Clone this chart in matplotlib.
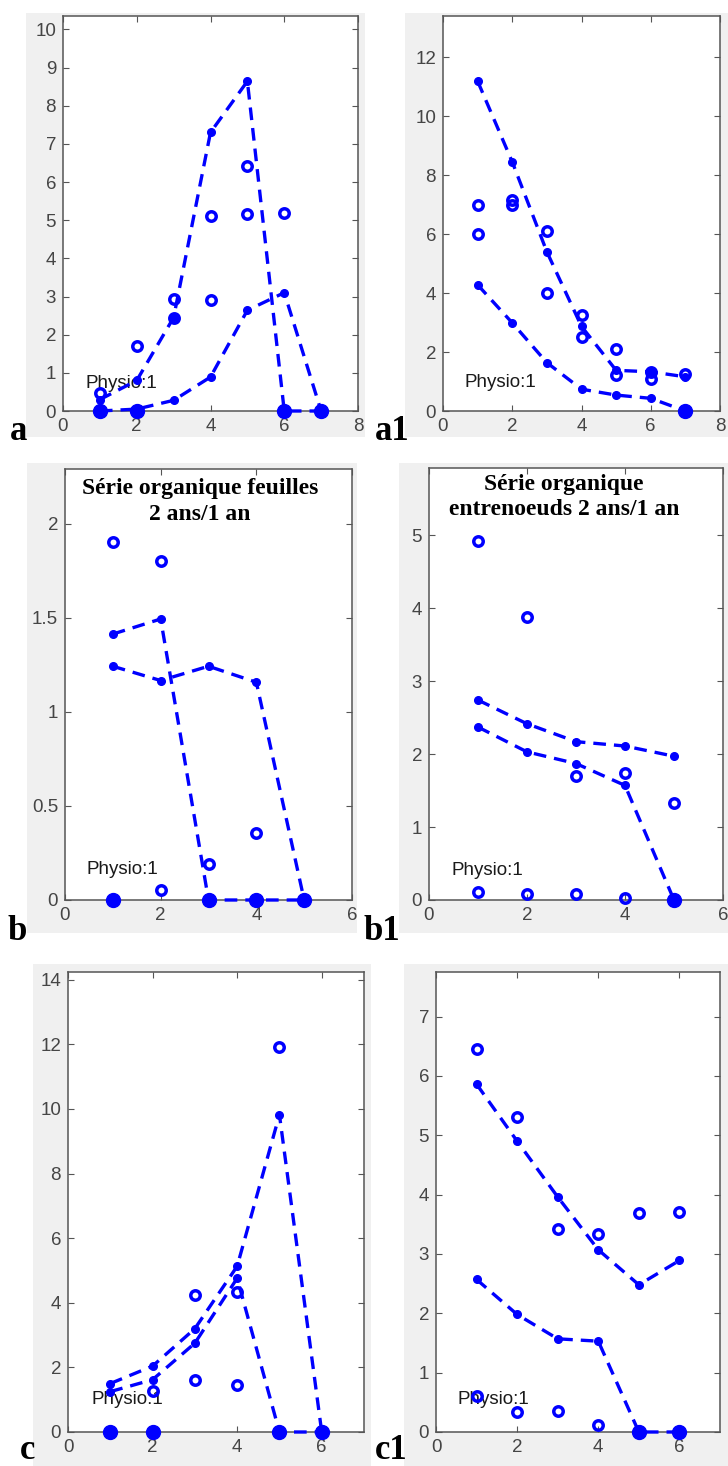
import numpy as np
import matplotlib.pyplot as plt
from matplotlib.patches import Rectangle

plt.rcParams['font.family'] = ['Liberation Sans', 'DejaVu Sans']

# ---- data ----
# panel a
a_x = [1, 2, 3, 4, 5, 6, 7]
a_sim1 = [0.3, 0.8, 2.45, 7.3, 8.64, 0, 0]
a_sim2 = [0, 0.05, 0.28, 0.89, 2.64, 3.1, 0]
a_obs_x = [1, 2, 3, 3, 4, 4, 5, 5, 6]
a_obs_y = [0.48, 1.70, 2.94, 2.44, 5.12, 2.92, 6.41, 5.16, 5.19]
a_zero = [1, 2, 6, 7]

# panel a1
a1_x = [1, 2, 3, 4, 5, 6, 7]
a1_sim1 = [11.19, 8.45, 5.40, 2.87, 1.38, 1.33, 1.16]
a1_sim2 = [4.28, 2.99, 1.64, 0.74, 0.54, 0.43, 0]
a1_obs_x = [1, 1, 2, 2, 3, 3, 4, 4, 5, 5, 6, 6, 7]
a1_obs_y = [7.0, 6.02, 7.17, 7.0, 6.10, 4.02, 3.26, 2.51, 2.11, 1.21, 1.33, 1.07, 1.25]
a1_zero = [7]

# panel b
b_x = [1, 2, 3, 4, 5]
b_sim1 = [1.413, 1.493, 0, 0, 0]
b_sim2 = [1.242, 1.166, 1.242, 1.157, 0]
b_obs_x = [1, 2, 2, 3, 4]
b_obs_y = [1.90, 1.80, 0.053, 0.19, 0.357]
b_zero = [1, 3, 4, 5]

# panel b1
b1_x = [1, 2, 3, 4, 5]
b1_sim1 = [2.74, 2.415, 2.17, 2.11, 1.97]
b1_sim2 = [2.37, 2.03, 1.87, 1.57, 0]
b1_obs_x = [1, 2, 3, 4, 5, 1, 2, 3, 4]
b1_obs_y = [4.92, 3.88, 1.70, 1.735, 1.33, 0.105, 0.08, 0.08, 0.03]
b1_zero = [5]

# panel c
c_x = [1, 2, 3, 4, 5, 6]
c_sim1 = [1.5, 2.04, 3.2, 5.13, 9.82, 0]
c_sim2 = [1.25, 1.62, 2.75, 4.76, 0, 0]
c_obs_x = [2, 3, 3, 4, 4, 5]
c_obs_y = [1.27, 4.23, 1.61, 4.32, 1.44, 11.92]
c_zero = [1, 2, 5, 6]

# panel c1
c1_x = [1, 2, 3, 4, 5, 6]
c1_sim1 = [5.86, 4.90, 3.96, 3.07, 2.48, 2.89]
c1_sim2 = [2.57, 1.98, 1.57, 1.53, 0, 0]
c1_obs_x = [1, 2, 3, 4, 5, 6, 1, 2, 3, 4]
c1_obs_y = [6.45, 5.30, 3.42, 3.33, 3.69, 3.70, 0.61, 0.33, 0.35, 0.12]
c1_zero = [5, 6]

title_b = "Série organique feuilles\n2 ans/1 an"
title_b1 = "Série organique\nentrenoeuds 2 ans/1 an"

W, H = 728, 1466
blue = '#0000ff'


def px_box(l, t, r, b):
    return [l / W, 1 - b / H, (r - l) / W, (b - t) / H]


def panel(box, x, sim1, sim2, obs_x, obs_y, zero, xlim, ylim, yticks, xticks, physio):
    ax = fig.add_axes(px_box(*box), zorder=1)
    for s in (sim1, sim2):
        ax.plot(x, s, '--', color=blue, lw=2.4, dashes=(3.8, 2.4),
                marker='o', ms=5.5, mfc=blue, mec=blue, clip_on=False, zorder=3)
    ax.plot(obs_x, obs_y, 'o', ms=6.8, mfc='none', mec=blue, mew=2.5, clip_on=False, zorder=4)
    ax.plot(zero, [0] * len(zero), 'o', ms=10, color=blue, clip_on=False, zorder=5)
    ax.set_xlim(*xlim)
    ax.set_ylim(*ylim)
    ax.set_xticks(xticks)
    ax.set_xticklabels([f'{v:g}' for v in xticks])
    ax.set_yticks(yticks)
    ax.set_yticklabels([f'{v:g}' for v in yticks])
    ax.tick_params(direction='in', top=True, right=True, length=4, width=0.8,
                   color='#555555', labelcolor='#454545', labelsize=13.5, pad=5)
    for sp in ax.spines.values():
        sp.set_color('#555555')
        sp.set_linewidth(1.1)
    ax.text(physio[0], physio[1], 'Physio:1', fontsize=13.5, color='#1a1a1a', va='center', ha='left', zorder=2)
    return ax


fig = plt.figure(figsize=(W / 100, H / 100), dpi=100)

# grey figure backgrounds of the original screenshots
bg = fig.add_axes([0, 0, 1, 1], zorder=-1)
bg.set_xlim(0, W)
bg.set_ylim(H, 0)
bg.axis('off')
for l, t, r, b in [(26, 13, 365, 437), (405, 13, 728, 437),
                   (27, 463, 357, 933), (399, 463, 728, 933),
                   (33, 964, 371, 1466), (404, 964, 728, 1466)]:
    bg.add_patch(Rectangle((l, t), r - l, b - t, color='#f0f0f0', lw=0))

panel((63, 16, 358, 411), a_x, a_sim1, a_sim2, a_obs_x, a_obs_y, a_zero,
      (0, 8), (0, 10.35), list(range(0, 11)), [0, 2, 4, 6, 8], (0.62, 0.72))
panel((443, 16, 720, 411), a1_x, a1_sim1, a1_sim2, a1_obs_x, a1_obs_y, a1_zero,
      (0, 8), (0, 13.4), [0, 2, 4, 6, 8, 10, 12], [0, 2, 4, 6, 8], (0.62, 0.97))
axb = panel((65, 469, 352, 900), b_x, b_sim1, b_sim2, b_obs_x, b_obs_y, b_zero,
            (0, 6), (0, 2.29), [0, 0.5, 1, 1.5, 2], [0, 2, 4, 6], (0.44, 0.16))
axb1 = panel((429, 468, 723, 900), b1_x, b1_sim1, b1_sim2, b1_obs_x, b1_obs_y, b1_zero,
             (0, 6), (0, 5.92), [0, 1, 2, 3, 4, 5], [0, 2, 4, 6], (0.46, 0.41))
panel((68, 972, 364, 1432), c_x, c_sim1, c_sim2, c_obs_x, c_obs_y, c_zero,
      (0, 7), (0, 14.24), [0, 2, 4, 6, 8, 10, 12, 14], [0, 2, 4, 6], (0.56, 1.02))
panel((436, 972, 720, 1432), c1_x, c1_sim1, c1_sim2, c1_obs_x, c1_obs_y, c1_zero,
      (0, 7), (0, 7.75), [0, 1, 2, 3, 4, 5, 6, 7], [0, 2, 4, 6], (0.54, 0.55))

axb.text(0.47, 0.924, title_b, transform=axb.transAxes, ha='center', va='center',
         family='Liberation Serif', fontweight='bold', fontsize=17, linespacing=1.3)
axb1.text(0.46, 0.933, title_b1, transform=axb1.transAxes, ha='center', va='center',
          family='Liberation Serif', fontweight='bold', fontsize=17, linespacing=1.3)

# panel letters
for lab, x, y in [('a', 10, 440), ('a1', 375, 440), ('b', 7, 940), ('b1', 364, 940),
                  ('c', 20, 1459), ('c1', 375, 1459)]:
    fig.text(x / W, 1 - y / H, lab, family='Liberation Serif', fontweight='bold',
             fontsize=25, ha='left', va='baseline', zorder=2)

fig.savefig('out.png', dpi=100)
